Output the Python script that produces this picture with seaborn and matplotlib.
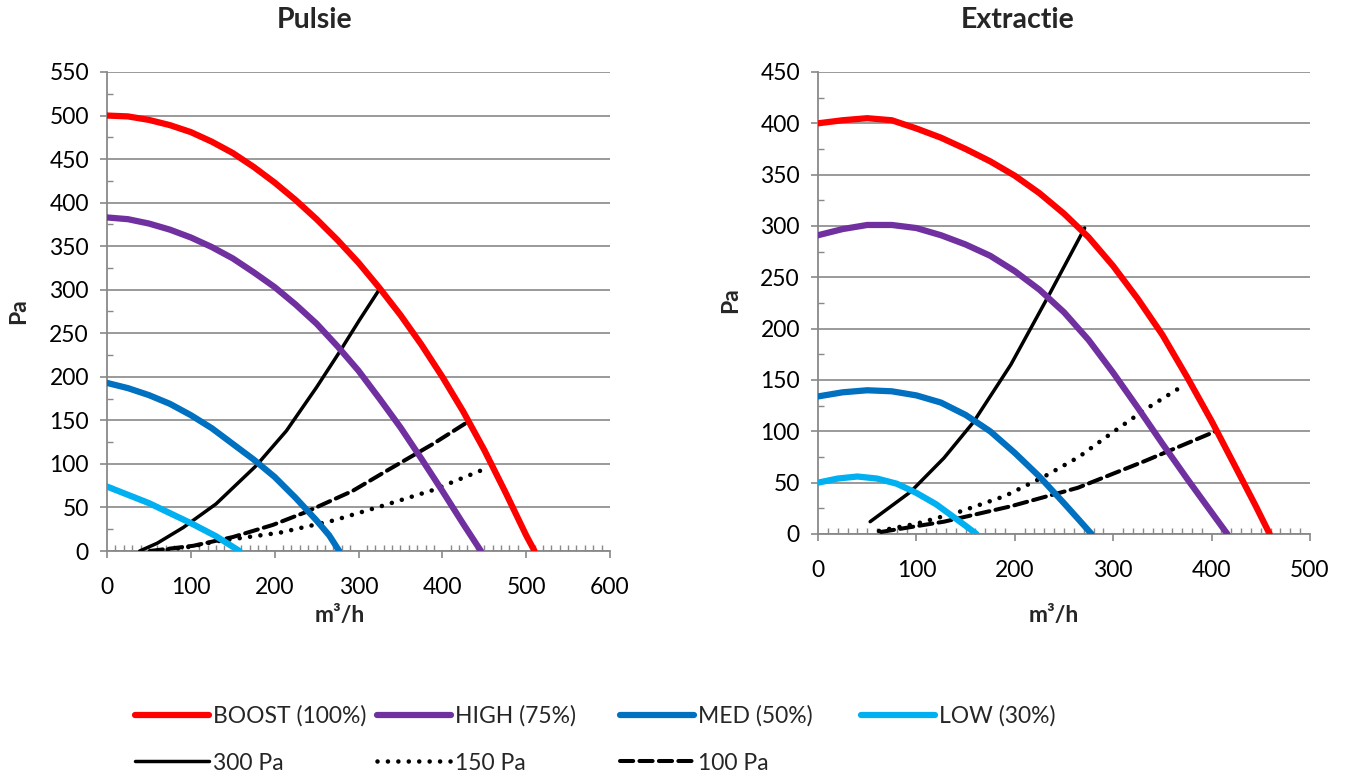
import matplotlib
matplotlib.use("Agg")
import matplotlib.pyplot as plt
import seaborn as sns
import pandas as pd
from matplotlib.lines import Line2D
from matplotlib.ticker import MultipleLocator

# ---------------- data ----------------
# Pulsie
p_boost_x = [0, 25, 50, 75, 100, 125, 150, 175, 200, 225, 250, 275, 300, 325, 350, 375, 400, 425, 450, 475, 500, 510]
p_boost_y = [500, 499, 495, 489, 481, 470, 457, 441, 423, 403, 381, 357, 331, 302, 271, 237, 200, 160, 116, 68, 18, 0]
p_high_x = [0, 25, 50, 75, 100, 125, 150, 175, 200, 225, 250, 275, 300, 325, 350, 375, 400, 425, 446]
p_high_y = [383, 381, 376, 369, 360, 349, 336, 320, 303, 283, 261, 235, 207, 175, 142, 106, 69, 31, 0]
p_med_x = [0, 25, 50, 75, 100, 125, 150, 175, 200, 225, 250, 265, 277]
p_med_y = [193, 187, 179, 169, 156, 141, 123, 105, 85, 61, 35, 18, 0]
p_low_x = [0, 50, 100, 130, 158]
p_low_y = [74, 55, 32, 17, 0]
p_300_x = [39, 60, 91, 130, 178, 214, 250, 277, 301, 326]
p_300_y = [0, 9, 27, 54, 98, 138, 188, 228, 265, 302]
p_150_x = [60, 100, 130, 206, 270, 329, 389, 450]
p_150_y = [0, 5, 11, 21, 35, 52, 70, 94]
p_100_x = [51, 103, 150, 198, 238, 293, 337, 389, 430]
p_100_y = [0, 6, 16, 30, 45, 69, 94, 123, 148]

# Extractie
e_boost_x = [0, 25, 50, 75, 100, 125, 150, 175, 200, 225, 250, 275, 300, 325, 350, 375, 400, 425, 445, 459]
e_boost_y = [400, 403, 405, 403, 395, 386, 375, 363, 349, 332, 312, 289, 261, 229, 194, 153, 110, 64, 27, 0]
e_high_x = [0, 25, 50, 75, 100, 125, 150, 175, 200, 225, 250, 275, 300, 325, 350, 375, 400, 416]
e_high_y = [291, 297, 301, 301, 298, 291, 282, 271, 256, 238, 216, 189, 157, 123, 88, 54, 21, 0]
e_med_x = [0, 25, 50, 75, 100, 125, 150, 175, 200, 225, 250, 265, 278]
e_med_y = [134, 138, 140, 139, 135, 128, 116, 100, 79, 56, 30, 14, 0]
e_low_x = [0, 20, 40, 60, 80, 100, 120, 140, 150, 161]
e_low_y = [50, 54, 56, 54, 49, 40, 29, 15, 8, 0]
e_300_x = [53, 94, 128, 158, 196, 236, 271]
e_300_y = [12, 41, 74, 109, 165, 235, 298]
e_150_x = [62, 100, 145, 190, 230, 265, 298, 332, 372]
e_150_y = [3, 10, 22, 37, 56, 75, 98, 121, 145]
e_100_x = [64, 128, 196, 264, 332, 404]
e_100_y = [2, 12, 27, 45, 71, 100]

series_names = ["BOOST (100%)", "HIGH (75%)", "MED (50%)", "LOW (30%)",
                "300 Pa", "150 Pa", "100 Pa"]
titles = ["Pulsie", "Extractie"]
x_label = "m³/h"
y_label = "Pa"

# ---------------- styles ----------------
sns.set_theme(style="white")
plt.rcParams["font.family"] = ["Lato", "DejaVu Sans"]
plt.rcParams["lines.scale_dashes"] = False

GRID = "#898989"
styles = {
    "BOOST (100%)": dict(color="#FF0000", lw=4.5, ls="solid"),
    "HIGH (75%)": dict(color="#7030A0", lw=4.5, ls="solid"),
    "MED (50%)": dict(color="#0070C0", lw=4.5, ls="solid"),
    "LOW (30%)": dict(color="#00B0F0", lw=4.5, ls="solid"),
    "300 Pa": dict(color="black", lw=2.5, ls="solid"),
    "150 Pa": dict(color="black", lw=3.3, ls="dot"),
    "100 Pa": dict(color="black", lw=2.9, ls="dash"),
}


def apply_style(line, st):
    line.set_color(st["color"])
    line.set_linewidth(st["lw"])
    line.set_solid_capstyle("round")
    line.set_solid_joinstyle("round")
    if st["ls"] == "dot":
        line.set_dashes([0.01, 7.5])
        line.set_dash_capstyle("round")
    elif st["ls"] == "dash":
        line.set_dashes([9.5, 4.5])
        line.set_dash_capstyle("round")


W, H = 1347, 778
fig = plt.figure(figsize=(W / 100, H / 100), dpi=100)

ax_specs = [
    # left, right, top, bottom in px
    (107, 610, 72, 551),
    (818, 1310, 72, 534),
]
axes = []
for (l, r, t, b) in ax_specs:
    axes.append(fig.add_axes([l / W, 1 - b / H, (r - l) / W, (b - t) / H]))

data_sets = [
    [(p_boost_x, p_boost_y), (p_high_x, p_high_y), (p_med_x, p_med_y), (p_low_x, p_low_y),
     (p_300_x, p_300_y), (p_150_x, p_150_y), (p_100_x, p_100_y)],
    [(e_boost_x, e_boost_y), (e_high_x, e_high_y), (e_med_x, e_med_y), (e_low_x, e_low_y),
     (e_300_x, e_300_y), (e_150_x, e_150_y), (e_100_x, e_100_y)],
]
limits = [((0, 600), (0, 550)), ((0, 500), (0, 450))]

FS = 16.5
for ax, ds, (xl, yl), title in zip(axes, data_sets, limits, titles):
    order = [4, 5, 6, 0, 1, 2, 3]
    for i in order:
        name = series_names[i]
        xs, ys = ds[i]
        df = pd.DataFrame({"x": xs, "y": ys})
        sns.lineplot(data=df, x="x", y="y", ax=ax, sort=False, estimator=None,
                     legend=False)
        apply_style(ax.lines[-1], styles[name])
        ax.lines[-1].set_zorder(3)
    ax.set_xlim(*xl)
    ax.set_ylim(*yl)
    ax.xaxis.set_major_locator(MultipleLocator(100))
    ax.xaxis.set_minor_locator(MultipleLocator(10))
    ax.yaxis.set_major_locator(MultipleLocator(50))
    ax.yaxis.set_minor_locator(MultipleLocator(25))
    ax.grid(axis="y", which="major", color=GRID, lw=1.2, zorder=0)
    ax.grid(axis="x", which="both", visible=False)
    ax.set_axisbelow(True)
    for s in ["top", "right"]:
        ax.spines[s].set_visible(False)
    for s in ["left", "bottom"]:
        ax.spines[s].set_color(GRID)
        ax.spines[s].set_linewidth(1.3)
        ax.spines[s].set_zorder(2.5)
    ax.tick_params(axis="both", which="both", bottom=True, left=True,
                   top=False, right=False)
    ax.tick_params(axis="both", which="major", direction="out", length=5, width=1.2,
                   color=GRID, labelsize=FS, labelcolor="black")
    ax.tick_params(axis="y", which="major", pad=8)
    ax.tick_params(axis="x", which="major", pad=14)
    ax.tick_params(axis="both", which="minor", direction="in", length=4, width=1.0,
                   color=GRID)
    ax.set_xlabel(x_label, fontsize=FS, fontweight="bold")
    ax.set_ylabel(y_label, fontsize=FS, fontweight="bold")
    ax.set_facecolor("white")

axes[0].xaxis.set_label_coords(0.463, -0.112)
axes[0].yaxis.set_label_coords(-0.155, 0.5)
axes[1].xaxis.set_label_coords(0.48, -0.153)
axes[1].yaxis.set_label_coords(-0.156, 0.506)

fig.text(315 / W, 1 - 20 / H, titles[0], ha="center", va="center",
         fontsize=20.5, fontweight="bold")
fig.text(1018 / W, 1 - 20 / H, titles[1], ha="center", va="center",
         fontsize=20.5, fontweight="bold")

# ---------------- legend ----------------
fs_px = FS * 100 / 72
col_x = [135, 377, 620, 861]
row_y = [716, 763]
positions = [(0, 0), (1, 0), (2, 0), (3, 0), (0, 1), (1, 1), (2, 1)]
for name, (c, r) in zip(series_names, positions):
    st = styles[name]
    h = Line2D([], [])
    apply_style(h, st)
    fig.legend(handles=[h], labels=[name], loc="center left",
               bbox_to_anchor=(col_x[c] / W, 1 - row_y[r] / H),
               frameon=False, fontsize=FS, borderpad=0, borderaxespad=0,
               handlelength=74 / fs_px, handletextpad=4 / fs_px)

fig.savefig("out.png", dpi=100, facecolor="white")
